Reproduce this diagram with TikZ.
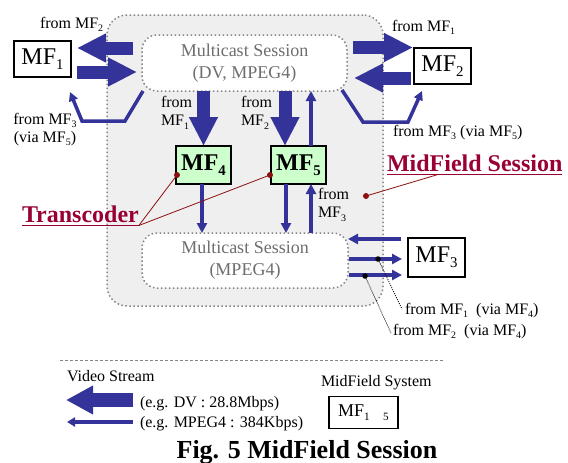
\documentclass[tikz,border=0pt]{standalone}
\usepackage{fontspec}
\setmainfont{Liberation Serif}
\usetikzlibrary{arrows.meta}

\definecolor{stream}{HTML}{333399}
\definecolor{note}{HTML}{990033}
\definecolor{pin}{HTML}{8B1010}
\definecolor{panelgray}{HTML}{EFEFEF}
\definecolor{dotgray}{HTML}{858585}
\definecolor{mcgray}{HTML}{6E6E6E}
\definecolor{mfgreen}{HTML}{CCFFCC}

% font at a given size / baseline skip
\newcommand\pxfont[2]{\fontsize{#1}{#2}\selectfont}
% lowered, reduced subscript in the current text font
\newcommand\sbs[1]{\raisebox{-0.22em}{\scalebox{0.62}{#1}}}

\begin{document}
\begin{tikzpicture}[x=1pt,y=-1pt,
  every node/.style={inner sep=0pt, outer sep=0pt},
  dotline/.style={draw=dotgray, line width=1.5pt, dash pattern=on 1.5pt off 2.5pt},
  panel/.style={dotline, fill=panelgray, rounded corners=20pt},
  mcbox/.style={dotline, fill=white, rounded corners=15pt, text=mcgray,
    align=center, font=\pxfont{18}{22}},
  mfbox/.style={draw=black, line width=1.3pt, fill=white, font=\pxfont{24}{24}},
  tcbox/.style={draw=black, line width=1.8pt, fill=mfgreen, font=\pxfont{24}{24}\bfseries},
  lbl/.style={font=\pxfont{16}{18}, align=left},
  fat/.style={draw=stream, line width=13pt, -{Triangle[length=29pt,width=27pt]}},
  thin/.style={draw=stream, line width=3.5pt, -{Triangle[length=10pt,width=10pt]}},
  bent/.style={draw=stream, line width=3.5pt, line join=miter, -{Triangle[length=9pt,width=9pt]}},
  redtag/.style={font=\pxfont{24}{24}\bfseries, text=note},
  pinline/.style={draw=pin, line width=0.8pt},
  pindot/.style={fill=pin, circle, minimum size=6pt},
  blackdot/.style={fill=black, circle, minimum size=5.5pt},
  leader/.style={draw=black, line width=0.8pt, dash pattern=on 1pt off 1.2pt},
]
\useasboundingbox (0,0) rectangle (568,463);
\fill[white] (0,0) rectangle (568,463);

% MidField session area and the two multicast sessions
\node[panel, minimum width=276pt, minimum height=291pt] (session) at (245,160.5) {};
\node[mcbox, minimum width=205pt, minimum height=56pt] (mcA) at (244.5,63)
  {Multicast Session\\(DV, MPEG4)};
\node[mcbox, minimum width=206pt, minimum height=55pt] (mcB) at (245,260.5)
  {Multicast Session\\(MPEG4)};

% MidField systems
\node[mfbox, minimum width=57pt, minimum height=36pt] (mf1) at (42.5,59) {MF\sbs{1}};
\node[mfbox, minimum width=57pt, minimum height=36pt] (mf2) at (442.5,66) {MF\sbs{2}};
\node[mfbox, minimum width=57pt, minimum height=39pt] (mf3) at (436.5,257.5) {MF\sbs{3}};
\node[tcbox, minimum width=55pt, minimum height=38pt] (mf4) at (203.5,165) {MF\sbs{4}};
\node[tcbox, minimum width=55pt, minimum height=38pt] (mf5) at (298.5,165) {MF\sbs{5}};

% stream end points
\coordinate (a1s) at (133,48);   \coordinate (a1t) at (77,48);
\coordinate (a2s) at (77,72);    \coordinate (a2t) at (137,72);
\coordinate (a3s) at (353,47.5); \coordinate (a3t) at (413,47.5);
\coordinate (a4s) at (411,78);   \coordinate (a4t) at (354,78);

% DV streams
\draw[fat] (a1s) -- (a1t);
\draw[fat] (a2s) -- (a2t);
\draw[fat] (a3s) -- (a3t);
\draw[fat] (a4s) -- (a4t);
\draw[fat] (mcA.south -| mf4.north) -- (mf4.north);
\draw[fat] ([xshift=-13.5pt]mcA.south -| mf5.north) -- ([xshift=-13.5pt]mf5.north);

% MPEG4 streams
\draw[thin] ([xshift=12.5pt]mf5.north) -- ([xshift=12.5pt]mf5.north |- mcA.south);
\draw[thin] ([xshift=-1.5pt]mf4.south) -- ([xshift=-1.5pt]mf4.south |- mcB.north);
\draw[thin] ([xshift=-12.5pt]mf5.south) -- ([xshift=-12.5pt]mf5.south |- mcB.north);
\draw[thin] ([xshift=12.5pt]mcB.north -| mf5.south) -- ([xshift=12.5pt]mf5.south);

\coordinate (b1s) at (401,239); \coordinate (b1t) at (348,239);
\coordinate (b2s) at (349,259); \coordinate (b2t) at (402,259);
\coordinate (b3s) at (349,275); \coordinate (b3t) at (402,275);
\draw[thin] (b1s) -- (b1t);
\draw[thin] (b2s) -- (b2t);
\draw[thin] (b3s) -- (b3t);

% relayed streams towards MF1 and MF2
\coordinate (c1s) at (143,91);  \coordinate (c1t) at (70,92);
\coordinate (c2s) at (342,90);  \coordinate (c2t) at (422,91);
\draw[bent] (c1s) -- (125,121) -- (82,121) -- (c1t);
\draw[bent] (c2s) -- (363,122) -- (408,122) -- (c2t);

% stream labels
\node[lbl, anchor=base west] at (40,28) {from MF\sbs{2}};
\node[lbl, align=center] at (45,129.5) {from MF\sbs{3}\\(via MF\sbs{5})};
\node[lbl, anchor=base west] at (392,31) {from MF\sbs{1}};
\node[lbl, anchor=base west] at (393,136) {from MF\sbs{3} (via MF\sbs{5})};
\node[lbl, anchor=west] at (161,113) {from\\MF\sbs{1}};
\node[lbl, anchor=west] at (241,113) {from\\MF\sbs{2}};
\node[lbl, anchor=west] at (318,205) {from\\MF\sbs{3}};

% relayed MPEG4 streams towards MF3
\node[blackdot] (d1) at (378,259) {};
\node[blackdot] (d2) at (365,276) {};
\node[lbl, anchor=base west] (n1) at (405,314) {from MF\sbs{1}\ \ (via MF\sbs{4})};
\node[lbl, anchor=base west] (n2) at (393,335) {from MF\sbs{2}\ \ (via MF\sbs{4})};
\draw[leader] (d1) -- ([xshift=-3pt,yshift=1pt]n1.west);
\draw[leader] (d2) -- ([xshift=-2pt,yshift=-2pt]n2.west);

% annotations
\node[redtag, anchor=base west] (tc) at (22,222) {Transcoder};
\draw[draw=note, line width=1.3pt] ([yshift=-3.5pt]tc.base west) -- ([yshift=-3.5pt]tc.base east);
\node[pindot] (t4) at (177,175) {};
\node[pindot] (t5) at (270,175) {};
\draw[pinline] ([yshift=-3.5pt]tc.base east) -- (t4.center);
\draw[pinline] ([yshift=-3.5pt]tc.base east) -- (t5.center);

\node[redtag, anchor=base west] (ms) at (387,171) {MidField Session};
\draw[draw=note, line width=1.3pt] ([yshift=-3.5pt]ms.base west) -- ([yshift=-3.5pt]ms.base east);
\node[pindot] (s1) at (366,196) {};
\draw[pinline] (s1.center) -- ([xshift=51pt,yshift=-3.5pt]ms.base west);

% legend
\draw[draw=dotgray, line width=0.8pt, dash pattern=on 3pt off 2pt] (60,360) -- (443,360);
\node[lbl, anchor=base west] at (67,381) {Video Stream};
\coordinate (l1s) at (133,400); \coordinate (l1t) at (66,400);
\coordinate (l2s) at (133,422); \coordinate (l2t) at (67,422);
\draw[fat, line width=14pt, -{Triangle[length=27pt,width=27pt]}] (l1s) -- (l1t);
\draw[thin, line width=3.5pt, -{Triangle[length=8pt,width=9pt]}] (l2s) -- (l2t);
\node[lbl, anchor=base west] at (140,407) {(e.g. DV : 28.8Mbps)};
\node[lbl, anchor=base west] at (140,427) {(e.g. MPEG4 : 384Kbps)};
\node[lbl, anchor=base west] at (321,386) {MidField System};
\node[mfbox, font=\pxfont{18}{18}, minimum width=69pt, minimum height=32pt] (mfall) at (363.5,412.5)
  {MF\sbs{1\hspace{1.2em}5}};

% caption
\node[font=\pxfont{26}{26}\bfseries, anchor=base] (cap) at (307,458) {Fig. 5 MidField Session};
\end{tikzpicture}
\end{document}
